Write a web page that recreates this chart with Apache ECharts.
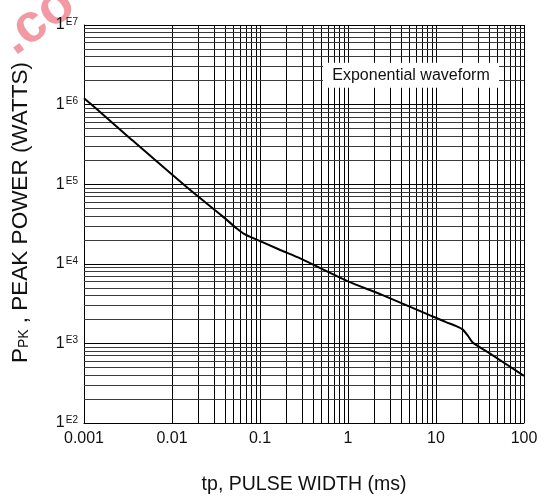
<!DOCTYPE html>
<html><head><meta charset="utf-8">
<script src="https://cdn.jsdelivr.net/npm/echarts@6/dist/echarts.min.js"></script>
<style>html,body{margin:0;padding:0;background:#fff}#c{width:547px;height:500px}</style>
</head><body><div id="c"></div>
<script>
// ---- data ----
const xTickLabels = ['0.001', '0.01', '0.1', '1', '10', '100'];
const yTickExponents = ['E2', 'E3', 'E4', 'E5', 'E6', 'E7'];
const pulseWidth = [0.001, 0.0015, 0.0035, 0.015, 0.037, 0.055, 0.065, 0.08, 0.17, 0.29, 0.97, 2.4, 8.2, 13, 17, 20, 23, 26, 40, 100];
const peakPower  = [1.2e6, 8.2e5, 3.6e5, 9.0e4, 4.0e4, 2.75e4, 2.4e4, 2.15e4, 1.49e4, 1.16e4, 6.1e3, 4.1e3, 2.3e3, 1.85e3, 1.65e3, 1.5e3, 1.25e3, 1.03e3, 7.6e2, 3.9e2];
const minorMultipliers = [2, 3, 4, 5, 6, 7, 8, 9];
const xDecades = [0.001, 0.01, 0.1, 1, 10];
const yDecades = [1e2, 1e3, 1e4, 1e5, 1e6];
const annotationText = 'Exponential waveform';
const annotationAt = [5.2, 2.33e6];

// ---- build ----
const FONT = 'Liberation Sans, Arial, sans-serif';
const curve = pulseWidth.map((x, i) => [x, peakPower[i]]);
const xMinor = [];
xDecades.forEach(d => minorMultipliers.forEach(m => xMinor.push(+(d * m).toPrecision(6))));
const yMinor = [];
yDecades.forEach(d => minorMultipliers.forEach(m => yMinor.push(+(d * m).toPrecision(6))));

const chart = echarts.init(document.getElementById('c'), null, {renderer: 'canvas'});
chart.setOption({
  animation: false,
  backgroundColor: '#fff',
  textStyle: {fontFamily: FONT},
  grid: {left: 84, right: 23, top: 25, bottom: 76, containLabel: false},
  graphic: [{
    type: 'text', x: 22, y: 66, rotation: Math.PI / 5, z: 0,
    style: {text: '.co', font: 'bold 54px ' + FONT, fill: '#f19aa3', textVerticalAlign: 'bottom'}
  }],
  xAxis: {
    type: 'log', logBase: 10, min: 0.001, max: 100,
    axisLine: {show: true, lineStyle: {color: '#000', width: 1}},
    axisTick: {show: false},
    splitLine: {show: true, lineStyle: {color: '#000', width: 1}},
    axisLabel: {
      margin: 8, color: '#111', fontSize: 16, fontFamily: FONT,
      formatter: v => xTickLabels[Math.round(Math.log10(v)) + 3]
    },
    name: 'tp, PULSE WIDTH (ms)', nameLocation: 'middle', nameGap: 52,
    nameTextStyle: {fontSize: 19.5, color: '#111', fontFamily: FONT}
  },
  yAxis: {
    type: 'log', logBase: 10, min: 100, max: 1e7,
    axisLine: {show: true, lineStyle: {color: '#000', width: 1}},
    axisTick: {show: false},
    splitLine: {show: true, lineStyle: {color: '#000', width: 1}},
    axisLabel: {
      margin: 6, color: '#111', fontFamily: FONT,
      formatter: v => '{a|1}{b|' + yTickExponents[Math.round(Math.log10(v)) - 2] + '}',
      rich: {
        a: {fontSize: 16, color: '#111', fontFamily: FONT, verticalAlign: 'bottom'},
        b: {fontSize: 10, lineHeight: 10, color: '#111', fontFamily: FONT, verticalAlign: 'top', padding: [0, 0, 10, 1]}
      }
    },
    name: '{p|P}{s|PK}{p| , PEAK POWER (WATTS)}', nameLocation: 'middle', nameGap: 52, nameRotate: 90,
    nameTextStyle: {
      padding: [0, 0, 0, 23],
      rich: {
        p: {fontSize: 22.5, color: '#111', fontFamily: FONT, verticalAlign: 'bottom'},
        s: {fontSize: 14, color: '#111', fontFamily: FONT, verticalAlign: 'bottom', padding: [0, 0, 1, 0]}
      }
    }
  },
  series: [
    {
      type: 'line', data: [], z: 1, silent: true,
      markLine: {
        silent: true, symbol: ['none', 'none'], label: {show: false}, animation: false,
        lineStyle: {color: '#000', width: 1, type: 'solid'},
        emphasis: {disabled: true},
        data: xMinor.map(v => ({xAxis: v}))
      }
    },
    {
      type: 'line', data: [], z: 1, silent: true,
      markLine: {
        silent: true, symbol: ['none', 'none'], label: {show: false}, animation: false,
        lineStyle: {color: '#3a3a3a', width: 1, type: 'solid'},
        emphasis: {disabled: true},
        data: yMinor.map(v => ({yAxis: v}))
      }
    },
    {
      type: 'line', data: curve, z: 5, smooth: 0.25, showSymbol: false, symbol: 'none',
      lineStyle: {color: '#000', width: 2},
      markPoint: {
        silent: true, animation: false,
        symbol: 'rect', symbolSize: [176, 25],
        itemStyle: {color: '#fff', borderWidth: 0},
        label: {show: true, position: 'inside', color: '#111', fontSize: 16, fontFamily: FONT, formatter: annotationText},
        data: [{coord: annotationAt}]
      }
    }
  ]
});
</script>
</body></html>
